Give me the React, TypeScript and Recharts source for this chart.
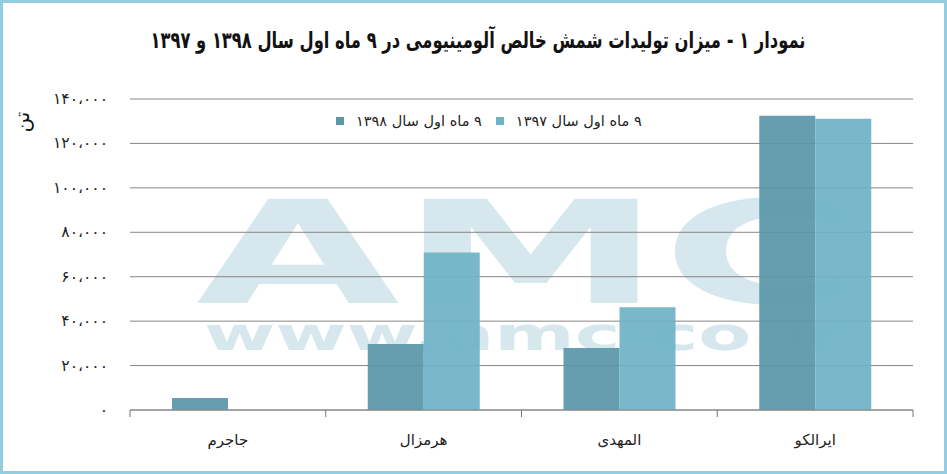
import React from "react"
import { BarChart, Bar, XAxis, YAxis, CartesianGrid, Legend } from "recharts"

const categories = ["جاجرم", "هرمزال", "المهدی", "ایرالکو"]
const values1398 = [5400, 29700, 27900, 132500]
const values1397 = [0, 70900, 46300, 131100]
const yTicks = [0, 20000, 40000, 60000, 80000, 100000, 120000, 140000]

const series = [
  { key: "y1398", name: "۹ ماه اول سال ۱۳۹۸", color: "#5b97a9" },
  { key: "y1397", name: "۹ ماه اول سال ۱۳۹۷", color: "#6fb3c7" },
]

const data = categories.map((name, i) => ({
  name,
  y1398: values1398[i],
  y1397: values1397[i],
}))

const faDigits = "۰۱۲۳۴۵۶۷۸۹"
const toFa = (n: number) =>
  n
    .toLocaleString("en-US")
    .replace(/,/g, "،")
    .replace(/\d/g, (d) => faDigits[+d])

const FONT = "'DejaVu Sans', sans-serif"

function LegendBox() {
  return (
    <div style={{ display: "flex", alignItems: "center", fontFamily: FONT, fontSize: 14.5, color: "#222" }}>
      {series.map((s) => (
        <div key={s.key} style={{ display: "flex", alignItems: "center", marginRight: 14 }}>
          <span style={{ width: 8, height: 8, background: s.color, display: "inline-block", marginRight: 12 }} />
          <span dir="rtl">{s.name}</span>
        </div>
      ))}
    </div>
  )
}

function YTick(props: any) {
  const { x, y, payload } = props
  return (
    <text x={x} y={y} dy={5} textAnchor="end" fontFamily={FONT} fontSize={15.5} fill="#222">
      {toFa(payload.value)}
    </text>
  )
}

// category label plus tick marks at the band edges
function XTick(props: any) {
  const { x, y, payload, index } = props
  const half = payload.offset || 0
  return (
    <g>
      <line x1={x - half} x2={x - half} y1={y} y2={y + 7} stroke="#777" />
      {index === categories.length - 1 && <line x1={x + half} x2={x + half} y1={y} y2={y + 7} stroke="#777" />}
      <text x={x} y={y + 35} textAnchor="middle" fontFamily={FONT} fontSize={15} fill="#222">
        {payload.value}
      </text>
    </g>
  )
}

export default function App() {
  return (
    <div style={{ position: "absolute", left: 0, top: 0, width: 947, height: 474, background: "#fff", overflow: "hidden" }}>
      {/* watermark */}
      <svg width={947} height={474} style={{ position: "absolute", left: 0, top: 0 }}>
        <text fontFamily={FONT} fontWeight="bold" fill="#d6e7ed">
          <tspan x={196} y={303} fontSize={143} textLength={659} lengthAdjust="spacingAndGlyphs">
            AMC
          </tspan>
          <tspan x={204} y={350} fontSize={46} textLength={641} lengthAdjust="spacingAndGlyphs">
            www.amc-co.ir
          </tspan>
        </text>
      </svg>

      <div style={{ position: "absolute", left: 0, top: 0 }}>
        <BarChart width={947} height={474} data={data} margin={{ top: 99, right: 34, left: 0, bottom: 0 }} barGap={0}>
          <CartesianGrid vertical={false} stroke="#868686" />
          <XAxis
            dataKey="name"
            axisLine={{ stroke: "#868686" }}
            tickLine={false}
            tickSize={0}
            tickMargin={0}
            height={64}
            tick={XTick}
          />
          <YAxis
            width={130}
            domain={[0, 140000]}
            ticks={yTicks}
            axisLine={false}
            tickLine={false}
            tickSize={0}
            tickMargin={22}
            tick={YTick}
          />
          <Legend content={<LegendBox />} verticalAlign="middle" wrapperStyle={{ top: 113, left: 336, width: "auto" }} />
          {series.map((s) => (
            <Bar key={s.key} dataKey={s.key} name={s.name} fill={s.color} fillOpacity={0.93} barSize={56} isAnimationActive={false} />
          ))}
        </BarChart>
      </div>

      <svg width={947} height={80} style={{ position: "absolute", left: 0, top: 0 }}>
        <text
          x={478}
          y={48}
          direction="rtl"
          textAnchor="middle"
          textLength={655}
          lengthAdjust="spacingAndGlyphs"
          fontFamily={FONT}
          fontWeight="bold"
          fontSize={23}
          fill="#111"
        >
          نمودار ۱ - میزان تولیدات شمش خالص آلومینیومی در ۹ ماه اول سال ۱۳۹۸ و ۱۳۹۷
        </text>
      </svg>

      <div style={{ position: "absolute", left: 8, top: 110, width: 28, textAlign: "center", transform: "rotate(-90deg)", fontFamily: FONT, fontSize: 20, color: "#111" }}>
        تن
      </div>

      <div style={{ position: "absolute", left: 0, top: 0, width: 947, height: 474, border: "3px solid #93cde0", boxSizing: "border-box", pointerEvents: "none" }} />
    </div>
  )
}
